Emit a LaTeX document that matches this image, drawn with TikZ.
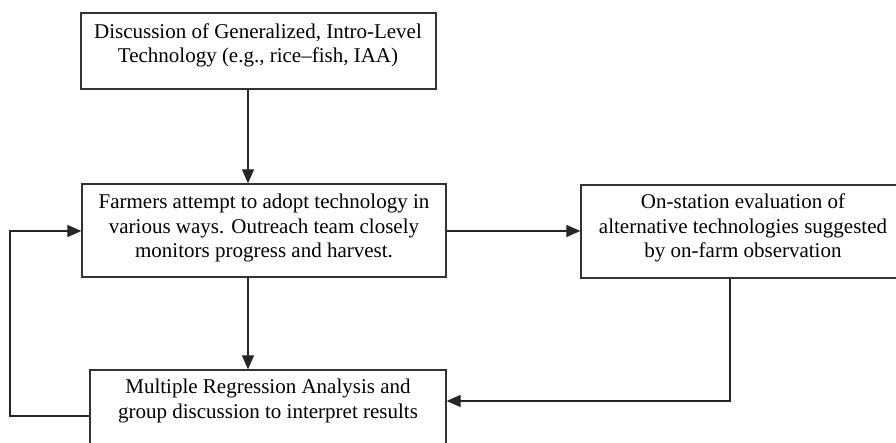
\documentclass[tikz,border=0pt]{standalone}
\usepackage{fontspec}
\setmainfont{Liberation Serif}
\usetikzlibrary{arrows.meta}
\begin{document}
\begin{tikzpicture}[x=1pt,y=-1pt,
  box/.style={draw=black!80, line width=1.3pt, inner sep=0pt},
  txt/.style={align=center, font=\fontsize{21}{24.5}\selectfont, inner sep=0pt, text=black},
  arr/.style={draw=black!85, line width=1.2pt, -{Triangle[length=14pt,width=12pt]}},
  ln/.style={draw=black!85, line width=1.2pt}]
\useasboundingbox (0,0) rectangle (896,443);
\clip (0,0) rectangle (896,443);
\fill[white] (0,0) rectangle (896,443);
% boxes
\node[box, minimum width=355pt, minimum height=76pt] (b1) at (258.5,51) {};
\node[box, minimum width=364pt, minimum height=93pt] (b2) at (264,230.5) {};
\node[box, minimum width=324pt, minimum height=93pt] (b3) at (743,231.5) {};
\node[box, minimum width=356pt, minimum height=100pt] (b4) at (268,420) {};
% texts
\node[txt] (t1) at (258,45.5) {Discussion of Generalized, Intro-Level\\Technology (e.g., rice\textendash fish, IAA)};
\node[txt] (t2) at (264,228) {Farmers attempt to adopt technology in\\various ways. Outreach team closely\\monitors progress and harvest.};
\node[txt] (t3) at (743,228) {On-station evaluation of\\alternative technologies suggested\\by on-farm observation};
\node[txt] (t4) at (268,401) {Multiple Regression Analysis and\\group discussion to interpret results};
% helper coordinates
\coordinate (cx) at (248,0);
\coordinate (cy) at (0,231);
\coordinate (c3) at (730,401);
\coordinate (fb) at (10,416);
% connectors
\draw[arr] (b1.south -| cx) -- (b2.north -| cx);
\draw[arr] (b2.south -| cx) -- (b4.north -| cx);
\draw[arr] (b2.east |- cy) -- (b3.west |- cy);
\draw[arr] (b3.south -| c3) |- (b4.east |- c3);
\draw[arr] (b4.west |- fb) -- (fb) |- (b2.west |- cy);
\end{tikzpicture}
\end{document}
